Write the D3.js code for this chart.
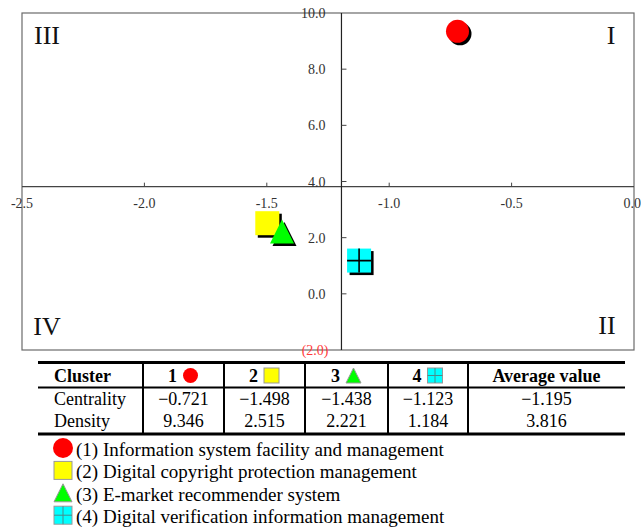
<!DOCTYPE html>
<html>
<head>
<meta charset="utf-8">
<script src="https://cdn.jsdelivr.net/npm/d3@7"></script>
<style>
  body { margin: 0; background: #fff; }
</style>
</head>
<body>
<script>
// cluster data
var clusters = ["1", "2", "3", "4"];
var shapes = ["circle", "square", "triangle", "cross"];
var colors = ["#ff0000", "#ffff00", "#00ff00", "#00ffff"];
var centrality = [-0.721, -1.498, -1.438, -1.123];
var density = [9.346, 2.515, 2.221, 1.184];
var avgCentrality = -1.195;
var avgDensity = 3.816;
var names = [
  "(1) Information system facility and management",
  "(2) Digital copyright protection management",
  "(3) E-market recommender system",
  "(4) Digital verification information management"
];
var xTicks = [-2.5, -2.0, -1.5, -1.0, -0.5, 0.0];
var yTicks = [10, 8, 6, 4, 2, 0, -2];
var quadrants = ["I", "II", "III", "IV"];

var width = 641, height = 530;

var svg = d3.select("body").append("svg")
    .attr("width", width)
    .attr("height", height)
    .attr("font-family", "'Liberation Serif', 'Times New Roman', serif");

var x = d3.scaleLinear().domain([-2.5, 0]).range([22, 634]);
var y = d3.scaleLinear().domain([-2, 10]).range([350, 13]);

var fmtTick = function(v) {
  var s = Math.abs(v).toFixed(1);
  return v < 0 ? "(" + s + ")" : s;
};
var fmtNum = function(v) {
  return (v < 0 ? "\u2212" : "") + Math.abs(v).toFixed(3);
};

// frame
svg.append("rect")
    .attr("x", x(-2.5)).attr("y", y(10))
    .attr("width", x(0) - x(-2.5)).attr("height", y(-2) - y(10))
    .attr("fill", "none").attr("stroke", "#6b6b6b").attr("stroke-width", 1.2);

// x axis through the average density
var xAxis = svg.append("g")
    .attr("transform", "translate(0," + y(avgDensity) + ")");
xAxis.append("line")
    .attr("x1", x(-2.5)).attr("x2", x(0))
    .attr("stroke", "#444").attr("stroke-width", 1.2);
xAxis.selectAll(".tk").data(xTicks.slice(1, -1)).enter().append("line")
    .attr("x1", d => x(d)).attr("x2", d => x(d))
    .attr("y1", 0).attr("y2", -4)
    .attr("stroke", "#444");
xAxis.selectAll(".lb").data(xTicks).enter().append("text")
    .attr("x", d => d === 0 ? x(d) + 7 : x(d)).attr("y", 21)
    .attr("text-anchor", d => d === 0 ? "end" : "middle")
    .attr("font-size", 14).attr("fill", "#333")
    .text(d => d.toFixed(1));

// y axis through the average centrality
var yAxis = svg.append("g")
    .attr("transform", "translate(" + x(avgCentrality) + ",0)");
yAxis.append("line")
    .attr("y1", y(10)).attr("y2", y(-2))
    .attr("stroke", "#222").attr("stroke-width", 1.2);
yAxis.selectAll(".tk").data(yTicks.slice(1, -1)).enter().append("line")
    .attr("y1", d => y(d)).attr("y2", d => y(d))
    .attr("x1", 0).attr("x2", 5)
    .attr("stroke", "#444");
yAxis.selectAll(".lb").data(yTicks).enter().append("text")
    .attr("x", d => d < 0 ? -13 : -16).attr("y", d => y(d) + 5)
    .attr("text-anchor", "end")
    .attr("font-size", 14)
    .attr("fill", d => d < 0 ? "#ff3b3b" : "#333")
    .text(fmtTick);

// quadrant labels
var quadPos = [[611, 44], [607, 334], [47, 44], [47, 335]];
svg.selectAll(".quad").data(quadrants).enter().append("text")
    .attr("x", (d, i) => quadPos[i][0]).attr("y", (d, i) => quadPos[i][1])
    .attr("text-anchor", "middle")
    .attr("font-size", 26).attr("fill", "#111")
    .text(d => d);

// marker drawing
function marker(g, shape, color, s, shadow, outline) {
  var h = s / 2;
  function draw(t, fill, stroke) {
    if (shape === "circle") {
      t.append("circle").attr("r", h).attr("fill", fill).attr("stroke", stroke);
    } else if (shape === "triangle") {
      t.append("path")
          .attr("d", "M0," + (-h) + "L" + h + "," + h + "L" + (-h) + "," + h + "Z")
          .attr("fill", fill).attr("stroke", stroke);
    } else {
      t.append("rect").attr("x", -h).attr("y", -h).attr("width", s).attr("height", s)
          .attr("fill", fill).attr("stroke", stroke);
    }
  }
  if (shadow) {
    draw(g.append("g").attr("transform", "translate(" + shadow + "," + shadow + ")"), "#000", "none");
  }
  draw(g, color, outline || "none");
  if (shape === "cross") {
    g.append("path")
        .attr("d", "M0," + (-h) + "V" + h + "M" + (-h) + ",0H" + h)
        .attr("stroke", outline ? "#4a8a8a" : "#000").attr("stroke-width", outline ? 1 : 1.6);
  }
}

// scatter points
clusters.forEach(function(c, i) {
  var g = svg.append("g")
      .attr("transform", "translate(" + x(centrality[i]) + "," + y(density[i]) + ")");
  marker(g, shapes[i], colors[i], shapes[i] === "circle" ? 23 : 24, 2.5);
});

// table
var colEdges = [38, 143, 224, 305, 388, 468, 625];
var table = svg.append("g");
var rowY = [381.5, 405, 426.5];

table.append("line").attr("x1", 38).attr("x2", 625).attr("y1", 362.5).attr("y2", 362.5)
    .attr("stroke", "#000").attr("stroke-width", 3);
table.append("line").attr("x1", 38).attr("x2", 625).attr("y1", 387.5).attr("y2", 387.5)
    .attr("stroke", "#000").attr("stroke-width", 2);
table.append("line").attr("x1", 38).attr("x2", 625).attr("y1", 434).attr("y2", 434)
    .attr("stroke", "#000").attr("stroke-width", 3);
table.selectAll(".vd").data(colEdges.slice(1, -1)).enter().append("line")
    .attr("x1", d => d).attr("x2", d => d).attr("y1", 362).attr("y2", 434)
    .attr("stroke", "#000").attr("stroke-width", 2);

var colCenter = function(j) { return (colEdges[j] + colEdges[j + 1]) / 2; };

table.append("text").attr("x", 54).attr("y", rowY[0])
    .attr("font-size", 18).attr("font-weight", "bold").text("Cluster");
table.append("text").attr("x", 54).attr("y", rowY[1])
    .attr("font-size", 18).text("Centrality");
table.append("text").attr("x", 54).attr("y", rowY[2])
    .attr("font-size", 18).text("Density");

clusters.forEach(function(c, i) {
  var cx = colCenter(i + 1);
  table.append("text").attr("x", cx - 11).attr("y", rowY[0])
      .attr("text-anchor", "middle").attr("font-size", 18).attr("font-weight", "bold").text(c);
  var g = table.append("g").attr("transform", "translate(" + (cx + 7) + "," + (rowY[0] - 6) + ")");
  marker(g, shapes[i], colors[i], 15, 0, shapes[i] === "circle" ? null : "#999");
  table.append("text").attr("x", cx).attr("y", rowY[1])
      .attr("text-anchor", "middle").attr("font-size", 18).text(fmtNum(centrality[i]));
  table.append("text").attr("x", cx).attr("y", rowY[2])
      .attr("text-anchor", "middle").attr("font-size", 18).text(density[i].toFixed(3));
});

table.append("text").attr("x", colCenter(5)).attr("y", rowY[0])
    .attr("text-anchor", "middle").attr("font-size", 18).attr("font-weight", "bold").text("Average value");
table.append("text").attr("x", colCenter(5)).attr("y", rowY[1])
    .attr("text-anchor", "middle").attr("font-size", 18).text(fmtNum(avgCentrality));
table.append("text").attr("x", colCenter(5)).attr("y", rowY[2])
    .attr("text-anchor", "middle").attr("font-size", 18).text(avgDensity.toFixed(3));

// legend
var legend = svg.append("g");
names.forEach(function(n, i) {
  var by = 456 + i * 22.4;
  var g = legend.append("g").attr("transform", "translate(63," + (by - 8) + ")");
  marker(g, shapes[i], colors[i], shapes[i] === "circle" ? 20 : 18, 0, shapes[i] === "circle" ? null : "#999");
  legend.append("text").attr("x", 76).attr("y", by)
      .attr("font-size", 19).text(n);
});
</script>
</body>
</html>
